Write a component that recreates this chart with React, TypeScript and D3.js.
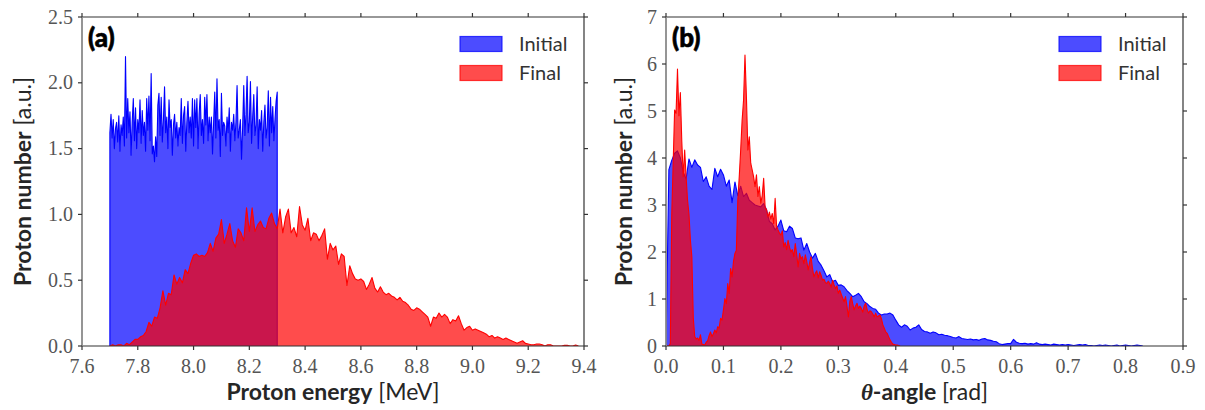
import React from 'react';
import * as d3 from 'd3';

// ---------- DATA ----------
const energyTicks = [7.6, 7.8, 8.0, 8.2, 8.4, 8.6, 8.8, 9.0, 9.2, 9.4];
const energyYTicks = [0, 0.5, 1.0, 1.5, 2.0, 2.5];
const thetaTicks = [0, 0.1, 0.2, 0.3, 0.4, 0.5, 0.6, 0.7, 0.8, 0.9];
const thetaYTicks = [0, 1, 2, 3, 4, 5, 6, 7];
const seriesNames = ['Initial', 'Final'];

// Panel (a): initial proton energy histogram, bins from 7.70 MeV every 0.004 MeV
const energyInitialStart = 7.7;
const energyInitialStep = 0.004;
const energyInitial = [
  1.62, 1.76, 1.58, 1.72, 1.50, 1.65, 1.70, 1.55, 1.75, 1.48,
  1.68, 1.60, 1.74, 1.52, 2.20, 1.58, 1.88, 1.62, 1.78, 1.45,
  1.70, 1.88, 1.56, 1.81, 1.50, 1.72, 1.62, 1.87, 1.54, 1.79,
  1.60, 1.70, 1.48, 1.88, 1.64, 1.90, 1.56, 2.07, 1.46, 1.52,
  1.40, 1.59, 1.44, 1.83, 1.92, 1.60, 1.89, 1.55, 1.72, 1.97,
  1.62, 1.74, 1.50, 1.87, 1.66, 1.72, 1.45, 1.68, 1.76, 1.58,
  1.70, 1.52, 1.66, 1.60, 1.88, 1.54, 1.75, 1.82, 1.48, 1.70,
  1.86, 1.62, 1.74, 1.58, 1.88, 1.52, 1.87, 1.66, 1.88, 1.50,
  1.76, 1.91, 1.60, 1.72, 1.54, 1.89, 1.68, 1.91, 1.56, 1.74,
  1.62, 1.74, 1.46, 1.70, 1.93, 1.58, 2.03, 1.64, 1.72, 1.44,
  1.92, 1.60, 1.70, 1.67, 1.52, 1.74, 1.62, 1.81, 1.48, 1.70,
  1.64, 1.76, 1.56, 1.70, 1.98, 1.58, 1.64, 1.72, 1.42, 1.66,
  1.98, 1.60, 1.76, 2.05, 1.62, 1.70, 2.01, 1.54, 1.74, 1.91,
  1.60, 1.68, 1.97, 1.50, 1.72, 1.64, 1.79, 1.48, 1.70, 1.83,
  1.58, 1.66, 1.94, 1.52, 1.89, 1.62, 1.82, 1.56, 1.72, 1.86,
  1.93,
];

// Panel (a): final proton energy histogram, bins from 7.70 MeV every 0.01 MeV
const energyFinalStart = 7.7;
const energyFinalStep = 0.01;
const energyFinal = [
  0.00, 0.01, 0.00, 0.01, 0.01, 0.00, 0.02, 0.01, 0.03, 0.05,
  0.05, 0.07, 0.08, 0.11, 0.18, 0.15, 0.22, 0.21, 0.29, 0.42,
  0.31, 0.40, 0.39, 0.54, 0.47, 0.52, 0.48, 0.58, 0.55, 0.63,
  0.69, 0.70, 0.68, 0.69, 0.68, 0.71, 0.78, 0.72, 0.82, 0.85,
  0.96, 0.78, 0.85, 0.93, 0.80, 0.75, 0.89, 0.86, 0.80, 1.05,
  0.87, 1.05, 0.87, 0.92, 0.95, 0.90, 0.89, 0.97, 1.01, 0.93,
  0.89, 1.04, 0.86, 0.98, 1.04, 0.86, 0.90, 0.83, 1.06, 0.92,
  0.88, 0.97, 0.80, 0.86, 0.85, 0.80, 0.84, 0.89, 0.66, 0.78,
  0.73, 0.76, 0.62, 0.70, 0.68, 0.46, 0.61, 0.55, 0.51, 0.50,
  0.51, 0.49, 0.43, 0.47, 0.52, 0.44, 0.41, 0.45, 0.41, 0.39,
  0.40, 0.38, 0.37, 0.35, 0.37, 0.34, 0.33, 0.31, 0.28, 0.27,
  0.29, 0.28, 0.26, 0.24, 0.22, 0.15, 0.22, 0.21, 0.25, 0.22,
  0.24, 0.22, 0.17, 0.20, 0.19, 0.23, 0.17, 0.12, 0.14, 0.15,
  0.12, 0.13, 0.12, 0.11, 0.10, 0.09, 0.07, 0.08, 0.06, 0.07,
  0.06, 0.05, 0.06, 0.05, 0.04, 0.03, 0.02, 0.03, 0.04, 0.02,
  0.015, 0.01, 0.01, 0.015, 0.015, 0.01, 0.00, 0.01, 0.01, 0.00,
  0.00, 0.00, 0.00, 0.005, 0.005, 0.00, 0.00, 0.008, 0.00,
];

// Panel (b): initial theta-angle distribution, from 0 rad every 0.005 rad
const thetaInitialStart = 0;
const thetaInitialStep = 0.005;
const thetaInitial = [
  0.00, 3.75, 3.95, 4.10, 4.15, 4.00, 3.70, 3.55, 3.98, 3.80,
  3.96, 3.85, 3.80, 3.50, 3.60, 3.40, 3.33, 3.78, 3.60, 3.76,
  3.64, 3.40, 3.53, 3.05, 3.49, 3.20, 3.40, 3.18, 3.25, 3.10,
  3.05, 3.00, 2.98, 2.96, 3.03, 2.90, 2.65, 2.60, 2.47, 2.55,
  2.68, 2.45, 2.43, 2.55, 2.50, 2.30, 2.28, 2.30, 2.04, 2.18,
  2.00, 1.87, 1.97, 1.80, 1.72, 1.60, 1.47, 1.52, 1.37, 1.40,
  1.29, 1.30, 1.26, 1.18, 1.12, 1.05, 1.08, 1.12, 1.05, 0.94,
  0.90, 0.84, 0.80, 0.78, 0.70, 0.66, 0.68, 0.68, 0.70, 0.66,
  0.55, 0.45, 0.40, 0.45, 0.42, 0.34, 0.38, 0.40, 0.45, 0.35,
  0.31, 0.30, 0.27, 0.30, 0.28, 0.24, 0.25, 0.23, 0.22, 0.20,
  0.18, 0.17, 0.20, 0.16, 0.15, 0.14, 0.15, 0.13, 0.14, 0.12,
  0.15, 0.16, 0.13, 0.12, 0.10, 0.09, 0.05, 0.03, 0.04, 0.05,
  0.05, 0.14, 0.08, 0.06, 0.05, 0.06, 0.04, 0.05, 0.04, 0.07,
  0.04, 0.03, 0.04, 0.03, 0.02, 0.04, 0.03, 0.02, 0.03, 0.02,
  0.03, 0.02, 0.01, 0.02, 0.03, 0.02, 0.03, 0.01, 0.01, 0.00,
  0.01, 0.02, 0.01, 0.02, 0.01, 0.00, 0.01, 0.02, 0.00, 0.01,
  0.02, 0.01, 0.00, 0.01, 0.02, 0.01, 0.00,
];

// Panel (b): final theta-angle distribution, from 0 rad every 0.0025 rad
const thetaFinalStart = 0;
const thetaFinalStep = 0.0025;
const thetaFinal = [
  0.00, 0.00, 0.00, 0.05, 2.80, 3.90, 5.02, 4.95, 5.89, 4.90,
  5.39, 4.35, 3.60, 4.17, 3.60, 3.10, 2.80, 2.25, 1.90, 0.60,
  0.20, 0.15, 0.17, 0.12, 0.24, 0.04, 0.03, 0.02, 0.08, 0.11,
  0.22, 0.30, 0.20, 0.26, 0.34, 0.28, 0.41, 0.38, 0.59, 0.55,
  0.77, 1.01, 0.90, 1.33, 1.12, 1.65, 1.47, 1.80, 1.97, 2.04,
  3.10, 3.60, 4.17, 4.80, 5.23, 6.19, 5.30, 4.17, 4.45, 3.89,
  3.75, 3.60, 3.39, 3.64, 3.18, 3.39, 3.04, 3.20, 3.57, 2.96,
  2.90, 2.74, 2.85, 2.70, 2.82, 2.60, 3.14, 2.55, 2.47, 2.40,
  2.36, 2.45, 2.11, 2.20, 2.05, 2.25, 2.10, 2.00, 2.05, 1.90,
  2.18, 1.95, 1.68, 1.97, 1.85, 1.90, 1.75, 1.94, 1.80, 1.62,
  1.78, 1.90, 1.65, 1.47, 1.55, 1.60, 1.45, 1.58, 1.50, 1.40,
  1.42, 1.35, 1.33, 1.38, 1.33, 1.25, 1.40, 1.30, 1.22, 1.28,
  1.12, 1.19, 1.10, 1.02, 0.94, 1.05, 0.85, 0.62, 0.95, 1.05,
  0.90, 0.77, 0.85, 0.91, 0.80, 0.85, 0.80, 0.72, 0.85, 0.91,
  0.78, 0.70, 0.75, 0.73, 0.68, 0.62, 0.70, 0.62, 0.64, 0.66,
  0.58, 0.45, 0.38, 0.30, 0.27, 0.20, 0.13, 0.08, 0.04, 0.03,
  0.02, 0.02, 0.01, 0.00,
];

// ---------- STYLE ----------
const BLUE = '#0000ff';
const RED = '#ff0000';
const FILL_OPACITY = 0.7;
const SANS = 'Lato, "DejaVu Sans", sans-serif';
const SERIF = '"Liberation Serif", "DejaVu Serif", serif';
const TEXT = '#262626';
const TICKTEXT = '#555555';

type Pt = [number, number];

function toPoints(start: number, step: number, vals: number[], closeEnds: boolean): Pt[] {
  const pts: Pt[] = vals.map((v, i) => [start + step * i, v] as Pt);
  if (closeEnds) {
    return [[pts[0][0], 0], ...pts, [pts[pts.length - 1][0], 0]];
  }
  return pts;
}

interface PanelProps {
  x0: number; x1: number; y0: number; y1: number;
  xDomain: [number, number]; yDomain: [number, number];
  xTicks: number[]; yTicks: number[];
  xFmt: (v: number) => string; yFmt: (v: number) => string;
  series: { pts: Pt[]; color: string }[];
  label: string;
  xLabel: React.ReactNode;
  yLabelX: number;
}

function Panel(p: PanelProps) {
  const x = d3.scaleLinear().domain(p.xDomain).range([p.x0, p.x1]);
  const y = d3.scaleLinear().domain(p.yDomain).range([p.y0, p.y1]);
  const area = d3.area<Pt>().x(d => x(d[0])).y0(y(0)).y1(d => y(d[1]));
  const line = d3.line<Pt>().x(d => x(d[0])).y(d => y(d[1]));
  const tl = 4;
  const clipId = 'clip' + p.label.replace(/[^a-z]/g, '');
  const legX = p.x1 - 124;
  return (
    <g>
      <defs>
        <clipPath id={clipId}>
          <rect x={p.x0} y={p.y1} width={p.x1 - p.x0} height={p.y0 - p.y1} />
        </clipPath>
      </defs>
      <g clipPath={`url(#${clipId})`}>
        {p.series.map((s, i) => (
          <g key={i}>
            <path d={area(s.pts) || ''} fill={s.color} fillOpacity={FILL_OPACITY} stroke="none" />
            <path d={line(s.pts) || ''} fill="none" stroke={s.color} strokeWidth={1.1} strokeLinejoin="round" />
          </g>
        ))}
      </g>
      {/* spines */}
      <line x1={p.x0} x2={p.x1} y1={p.y1} y2={p.y1} stroke="#333" strokeWidth={1.2} />
      <line x1={p.x1} x2={p.x1} y1={p.y1} y2={p.y0} stroke="#333" strokeWidth={1.2} />
      <line x1={p.x0} x2={p.x1} y1={p.y0} y2={p.y0} stroke="#333" strokeWidth={1.2} />
      <line x1={p.x0} x2={p.x0} y1={p.y1} y2={p.y0} stroke="#8a8a8a" strokeWidth={1.8} />
      {/* x ticks */}
      {p.xTicks.map((t, i) => (
        <g key={'xt' + i}>
          <line x1={x(t)} x2={x(t)} y1={p.y0} y2={p.y0 + tl} stroke="#333" strokeWidth={1.2} />
          <line x1={x(t)} x2={x(t)} y1={p.y1} y2={p.y1 - tl} stroke="#333" strokeWidth={1.2} />
          <text x={x(t)} y={p.y0 + 27} textAnchor="middle" fontFamily={SERIF} fontSize={20} fill={TICKTEXT}>{p.xFmt(t)}</text>
        </g>
      ))}
      {/* y ticks */}
      {p.yTicks.map((t, i) => (
        <g key={'yt' + i}>
          <line x1={p.x0} x2={p.x0 - tl} y1={y(t)} y2={y(t)} stroke="#333" strokeWidth={1.2} />
          <line x1={p.x1} x2={p.x1 + tl} y1={y(t)} y2={y(t)} stroke="#333" strokeWidth={1.2} />
          <text x={p.x0 - 9} y={y(t) + 6.5} textAnchor="end" fontFamily={SERIF} fontSize={20} fill={TICKTEXT}>{p.yFmt(t)}</text>
        </g>
      ))}
      {/* panel label */}
      <text x={p.x0 + 6} y={p.y1 + 30} fontFamily={SANS} fontWeight={900} fontSize={26} fill="#000" stroke="#000" strokeWidth={0.6}>{p.label}</text>
      {/* legend */}
      {seriesNames.map((n, i) => (
        <g key={'lg' + i}>
          <rect x={legX} y={p.y1 + 19.5 + i * 29} width={42} height={15} fill={p.series[i].color} fillOpacity={FILL_OPACITY}
            stroke={p.series[i].color} strokeOpacity={0.75} strokeWidth={1.2} />
          <text x={legX + 59} y={p.y1 + 34 + i * 29} fontFamily={SANS} fontSize={20} fill="#333">{n}</text>
        </g>
      ))}
      {/* axis labels */}
      <text x={(p.x0 + p.x1) / 2} y={p.y0 + 54} textAnchor="middle" fontFamily={SANS} fontSize={23} fill={TEXT}>{p.xLabel}</text>
      <text transform={`translate(${p.yLabelX},${(p.y0 + p.y1) / 2}) rotate(-90)`} textAnchor="middle" fontFamily={SANS} fontSize={23} fill={TEXT}>
        <tspan fontWeight={700}>Proton number</tspan><tspan> [a.u.]</tspan>
      </text>
    </g>
  );
}

export default function App() {
  const fmt1 = d3.format('.1f');
  const fmt0 = d3.format('d');
  const top = 17, bottom = 346;
  return (
    <svg width={1205} height={410} style={{ position: 'absolute', left: 0, top: 0, background: '#fff' }}>
      <rect x={0} y={0} width={1205} height={410} fill="#fff" />
      <Panel
        x0={82} x1={584} y0={bottom} y1={top}
        xDomain={[7.6, 9.4]} yDomain={[0, 2.5]}
        xTicks={energyTicks} yTicks={energyYTicks}
        xFmt={fmt1} yFmt={fmt1}
        series={[
          { pts: toPoints(energyInitialStart, energyInitialStep, energyInitial, true), color: BLUE },
          { pts: toPoints(energyFinalStart, energyFinalStep, energyFinal, false), color: RED },
        ]}
        label="(a)"
        xLabel={<><tspan fontWeight={700}>Proton energy</tspan><tspan> [MeV]</tspan></>}
        yLabelX={31}
      />
      <Panel
        x0={666} x1={1183} y0={bottom} y1={top}
        xDomain={[0, 0.9]} yDomain={[0, 7]}
        xTicks={thetaTicks} yTicks={thetaYTicks}
        xFmt={fmt1} yFmt={fmt0}
        series={[
          { pts: toPoints(thetaInitialStart, thetaInitialStep, thetaInitial, false), color: BLUE },
          { pts: toPoints(thetaFinalStart, thetaFinalStep, thetaFinal, false), color: RED },
        ]}
        label="(b)"
        xLabel={<><tspan fontWeight={700} fontStyle="italic" fontFamily={SERIF}>θ</tspan><tspan fontWeight={700}>-angle</tspan><tspan> [rad]</tspan></>}
        yLabelX={632}
      />
    </svg>
  );
}
